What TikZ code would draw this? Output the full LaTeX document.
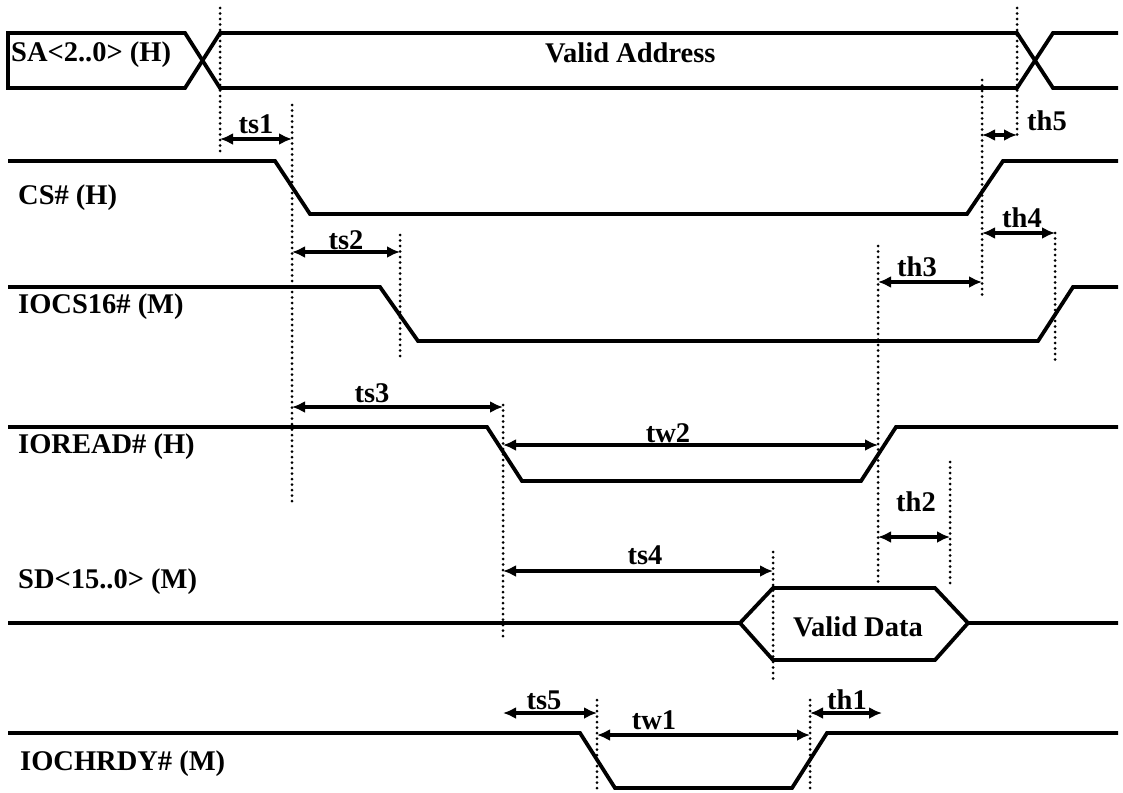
\documentclass[tikz,border=0pt]{standalone}
\usepackage{fontspec}
\setmainfont{Liberation Serif}
\usetikzlibrary{arrows.meta}
\begin{document}
\begin{tikzpicture}[x=1pt,y=-1pt,
  sig/.style={line width=3.8pt, line join=miter},
  guide/.style={line width=3pt, dash pattern=on 0pt off 5.5pt, line cap=round},
  dim/.style={line width=3.2pt, {Latex[length=13pt,width=12pt]}-{Latex[length=13pt,width=12pt]}},
  lbl/.style={font=\fontsize{28.5}{31}\selectfont\bfseries, inner sep=0pt},
  ]
\useasboundingbox (0,0) rectangle (1123,792);

% ---------- signal coordinates ----------
% SA
\coordinate (saLT) at (8,33);   \coordinate (saLB) at (8,88);
\coordinate (saA) at (185,33);  \coordinate (saB) at (185,88);
\coordinate (saC) at (220,33);  \coordinate (saD) at (220,88);
\coordinate (saE) at (1017,33); \coordinate (saF) at (1017,88);
\coordinate (saG) at (1053,33); \coordinate (saH) at (1053,88);
\coordinate (saI) at (1118,33); \coordinate (saJ) at (1118,88);
\draw[sig] (saLB) -- (saLT) -- (saA) -- (saD) -- (saF) -- (saG) -- (saI);
\draw[sig] (saLT) -- (saLB) -- (saB) -- (saC) -- (saE) -- (saH) -- (saJ);

% CS#
\coordinate (cs0) at (8,161);   \coordinate (cs1) at (275,161);
\coordinate (cs2) at (310,214); \coordinate (cs3) at (967,214);
\coordinate (cs4) at (1003,161);\coordinate (cs5) at (1118,161);
\draw[sig] (cs0) -- (cs1) -- (cs2) -- (cs3) -- (cs4) -- (cs5);

% IOCS16#
\coordinate (io0) at (8,287);   \coordinate (io1) at (380,287);
\coordinate (io2) at (418,341); \coordinate (io3) at (1038,341);
\coordinate (io4) at (1073,287);\coordinate (io5) at (1118,287);
\draw[sig] (io0) -- (io1) -- (io2) -- (io3) -- (io4) -- (io5);

% IOREAD#
\coordinate (rd0) at (8,427);   \coordinate (rd1) at (487,427);
\coordinate (rd2) at (522,481); \coordinate (rd3) at (861,481);
\coordinate (rd4) at (896,427); \coordinate (rd5) at (1118,427);
\draw[sig] (rd0) -- (rd1) -- (rd2) -- (rd3) -- (rd4) -- (rd5);

% SD<15..0>
\coordinate (sd0) at (8,623);   \coordinate (sd1) at (740,623);
\coordinate (sd2) at (773,588); \coordinate (sd3) at (935,588);
\coordinate (sd4) at (968,623); \coordinate (sd5) at (935,660);
\coordinate (sd6) at (773,660); \coordinate (sd7) at (1118,623);
\draw[sig] (sd0) -- (sd1) -- (sd2) -- (sd3) -- (sd4) -- (sd7);
\draw[sig] (sd1) -- (sd6) -- (sd5) -- (sd4);

% IOCHRDY#
\coordinate (ry0) at (8,733);   \coordinate (ry1) at (580,733);
\coordinate (ry2) at (615,788); \coordinate (ry3) at (792,788);
\coordinate (ry4) at (827,733); \coordinate (ry5) at (1118,733);
\draw[sig] (ry0) -- (ry1) -- (ry2) -- (ry3) -- (ry4) -- (ry5);

% ---------- guide (dotted) lines ----------
\coordinate (g1a) at (220,8);   \coordinate (g1b) at (220,155);
\coordinate (g2a) at (292,105); \coordinate (g2b) at (292,505);
\coordinate (g3a) at (400,235); \coordinate (g3b) at (400,360);
\coordinate (g4a) at (503,405); \coordinate (g4b) at (503,640);
\coordinate (g5a) at (1017,8);  \coordinate (g5b) at (1017,137);
\coordinate (g6a) at (982,80);  \coordinate (g6b) at (982,297);
\coordinate (g7a) at (878,246); \coordinate (g7b) at (878,585);
\coordinate (g8a) at (1055,233);\coordinate (g8b) at (1055,360);
\coordinate (g9a) at (950,462); \coordinate (g9b) at (950,585);
\coordinate (g10a) at (773,552);\coordinate (g10b) at (773,680);
\coordinate (g11a) at (597,700);\coordinate (g11b) at (597,792);
\coordinate (g12a) at (810,700);\coordinate (g12b) at (810,792);
\foreach \g in {1,...,12}{\draw[guide] (g\g a) -- (g\g b);}

% ---------- dimension arrows ----------
\coordinate (ts1a) at (220,139); \coordinate (ts1b) at (292,139);
\draw[dim] (ts1a) -- (ts1b);
\node[lbl] (ts1) at (256,124) {ts1};

\coordinate (ts2a) at (292,252); \coordinate (ts2b) at (400,252);
\draw[dim] (ts2a) -- (ts2b);
\node[lbl] (ts2) at (346,240) {ts2};

\coordinate (th5a) at (982,135); \coordinate (th5b) at (1017,135);
\draw[dim] (th5a) -- (th5b);
\node[lbl,anchor=west] (th5) at (1027,121) {th5};

\coordinate (th4a) at (982,233); \coordinate (th4b) at (1055,233);
\draw[dim] (th4a) -- (th4b);
\node[lbl] (th4) at (1022,218) {th4};

\coordinate (th3a) at (878,282); \coordinate (th3b) at (982,282);
\draw[dim] (th3a) -- (th3b);
\node[lbl] (th3) at (917,267) {th3};

\coordinate (ts3a) at (292,407); \coordinate (ts3b) at (503,407);
\draw[dim] (ts3a) -- (ts3b);
\node[lbl] (ts3) at (372,393) {ts3};

\coordinate (tw2a) at (503,445); \coordinate (tw2b) at (878,445);
\draw[dim] (tw2a) -- (tw2b);
\node[lbl] (tw2) at (668,433) {tw2};

\coordinate (th2a) at (878,537); \coordinate (th2b) at (950,537);
\draw[dim] (th2a) -- (th2b);
\node[lbl] (th2) at (916,502) {th2};

\coordinate (ts4a) at (503,571); \coordinate (ts4b) at (773,571);
\draw[dim] (ts4a) -- (ts4b);
\node[lbl] (ts4) at (645,555) {ts4};

\coordinate (ts5a) at (503,713); \coordinate (ts5b) at (597,713);
\draw[dim] (ts5a) -- (ts5b);
\node[lbl] (ts5) at (544,700) {ts5};

\coordinate (tw1a) at (597,735); \coordinate (tw1b) at (810,735);
\draw[dim] (tw1a) -- (tw1b);
\node[lbl] (tw1) at (654,720) {tw1};

\coordinate (th1a) at (810,713); \coordinate (th1b) at (882,713);
\draw[dim] (th1a) -- (th1b);
\node[lbl] (th1) at (847,700) {th1};

% ---------- signal names ----------
\node[lbl,anchor=west] (nSA) at (11,55) {SA<2..0> (H)};
\node[lbl,anchor=west] (nVA) at (545,53) {Valid Address};
\node[lbl,anchor=west] (nCS) at (18,198) {CS\# (H)};
\node[lbl,anchor=west] (nIO) at (18,307) {IOCS16\# (M)};
\node[lbl,anchor=west] (nRD) at (18,447) {IOREAD\# (H)};
\node[lbl,anchor=west] (nSD) at (18,582) {SD<15..0> (M)};
\node[lbl] (nVD) at (858,627) {Valid Data};
\node[lbl,anchor=west] (nRY) at (20,764) {IOCHRDY\# (M)};
\end{tikzpicture}
\end{document}
